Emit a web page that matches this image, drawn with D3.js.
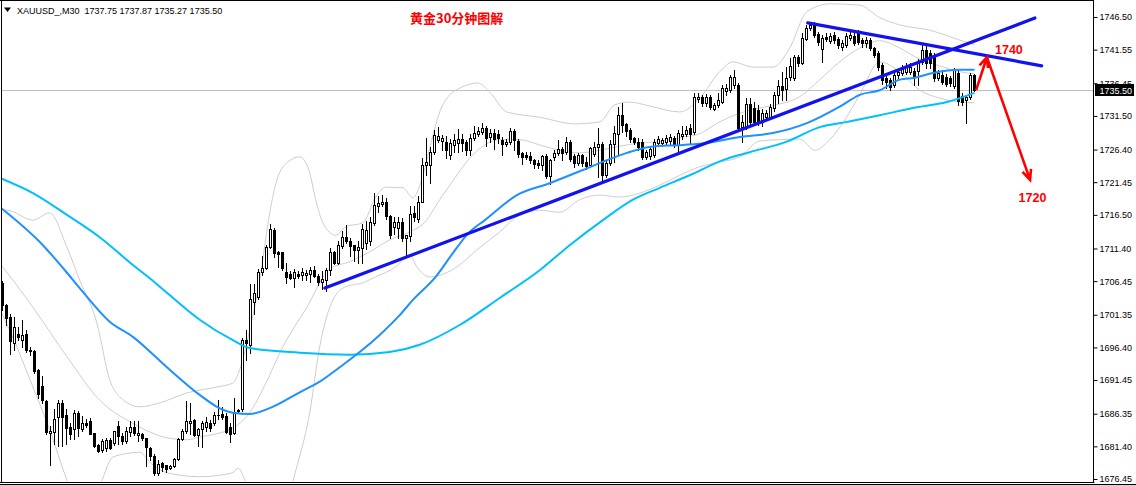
<!DOCTYPE html>
<html><head><meta charset="utf-8">
<script src="https://cdn.jsdelivr.net/npm/d3@7"></script>
<style>
html,body{margin:0;padding:0;background:#fff;}
svg{display:block;}
</style>
</head><body>
<svg id="chart" width="1136" height="485"></svg>
<script>
// ---------------- DATA ----------------
const symbolHeader = "XAUUSD_,M30  1737.75 1737.87 1735.27 1735.50";
const chartTitle = "黄金30分钟图解";
const lastPrice = 1735.50;
const tickLabels = ["1746.50","1741.55","1736.45","1731.50","1726.40","1721.45","1716.50","1711.40","1706.45","1701.35","1696.40","1691.45","1686.35","1681.40","1676.45"];

const opens = [
1706.2,1702.8,1701.0,1697.0,1698.5,1697.5,1698.5,1696.0,1695.8,1693.0,
1690.5,1688.3,1683.5,1683.6,1685.8,1688.0,1686.2,1684.3,1684.0,1686.5,
1684.0,1685.0,1685.2,1683.4,1681.6,1680.8,1681.2,1682.4,1681.9,1684.5,
1682.9,1682.2,1683.6,1684.4,1683.1,1683.2,1682.6,1681.2,1680.0,1677.4,
1678.9,1678.5,1678.1,1678.4,1679.5,1682.5,1683.7,1685.0,1685.4,1683.1,
1684.0,1684.3,1685.0,1684.9,1686.2,1686.3,1686.0,1684.3,1683.4,1686.7,
1687.0,1697.6,1696.8,1703.3,1704.0,1707.8,1708.4,1711.6,1714.2,1710.9,
1710.8,1707.8,1707.6,1707.0,1707.5,1707.4,1707.4,1707.5,1708.2,1707.3,
1706.3,1706.6,1708.1,1710.8,1709.2,1711.8,1713.2,1712.5,1711.9,1711.2,
1711.4,1712.2,1712.5,1715.3,1717.9,1718.2,1718.5,1716.3,1714.6,1714.5,
1715.4,1713.0,1713.3,1716.8,1715.9,1718.5,1724.0,1724.1,1726.1,1727.8,
1727.7,1727.6,1725.6,1727.1,1727.4,1728.0,1727.5,1726.4,1728.1,1728.8,
1729.0,1729.7,1728.3,1728.9,1728.8,1727.9,1727.3,1727.6,1729.2,1727.7,
1725.9,1725.6,1725.4,1724.8,1724.4,1724.1,1725.4,1722.4,1725.3,1725.9,
1726.5,1726.1,1727.5,1725.5,1724.4,1725.6,1724.5,1724.1,1725.8,1726.8,
1727.3,1722.6,1724.4,1727.3,1728.8,1731.6,1730.3,1729.4,1728.2,1727.6,
1727.6,1725.3,1725.4,1725.6,1727.4,1727.4,1727.6,1727.7,1728.2,1727.1,
1728.5,1728.8,1729.6,1729.0,1734.0,1734.3,1733.5,1734.3,1732.6,1733.2,
1733.6,1735.3,1735.4,1736.2,1736.2,1729.8,1729.8,1733.3,1732.7,1732.4,
1730.6,1731.3,1731.4,1732.7,1734.6,1736.0,1735.6,1737.4,1737.3,1740.4,
1739.5,1743.2,1744.8,1745.3,1743.9,1741.6,1743.5,1742.9,1743.7,1743.2,
1742.0,1742.2,1743.3,1743.6,1744.0,1743.0,1742.5,1743.0,1741.8,1741.0,
1739.2,1737.3,1737.0,1736.2,1737.7,1738.0,1738.2,1738.2,1738.3,1738.3,
1739.7,1741.5,1741.0,1740.7,1737.3,1737.7,1737.4,1737.2,1736.0,1738.0,
1734.5,1733.9,1734.3,1737.75];

const highs = [
1706.5,1703.0,1701.5,1701.0,1699.5,1700.5,1699.0,1696.5,1696.0,1693.2,
1692.0,1688.5,1684.5,1687.0,1688.5,1688.5,1687.0,1685.0,1686.9,1686.8,
1686.0,1685.6,1685.7,1683.5,1681.8,1682.5,1682.6,1682.6,1683.8,1685.3,
1683.4,1684.3,1685.3,1685.3,1685.2,1683.5,1682.7,1681.3,1680.2,1679.4,
1679.0,1678.6,1678.6,1679.6,1682.6,1684.0,1688.3,1688.0,1685.6,1684.2,
1685.3,1685.8,1685.4,1686.6,1688.5,1687.3,1686.4,1684.9,1688.7,1687.1,
1697.8,1699.0,1706.0,1706.0,1708.3,1710.3,1711.9,1715.1,1714.5,1711.0,
1710.9,1709.2,1708.0,1708.3,1708.0,1708.5,1708.2,1708.6,1708.8,1707.5,
1708.0,1708.4,1711.4,1711.0,1712.5,1714.0,1715.0,1713.0,1711.9,1712.5,
1715.1,1715.5,1716.2,1719.8,1719.3,1719.5,1719.0,1716.5,1716.2,1716.1,
1716.0,1713.5,1717.9,1717.9,1719.4,1725.1,1728.2,1726.8,1729.4,1729.8,
1728.6,1728.5,1728.0,1728.7,1729.5,1728.8,1727.8,1728.8,1730.0,1729.8,
1730.4,1730.0,1729.5,1729.5,1729.3,1728.3,1728.0,1729.7,1729.5,1728.0,
1726.0,1726.0,1726.0,1725.0,1724.8,1725.6,1725.7,1725.0,1726.3,1727.9,
1726.8,1728.3,1727.8,1725.7,1725.9,1725.8,1725.3,1726.8,1727.6,1729.6,
1727.6,1724.8,1727.8,1729.9,1732.9,1733.5,1730.5,1729.6,1728.3,1728.2,
1728.0,1726.4,1727.0,1728.0,1728.5,1728.2,1728.6,1728.8,1728.5,1729.3,
1730.0,1730.0,1730.3,1735.0,1735.0,1734.7,1734.9,1734.6,1733.5,1735.0,
1736.2,1736.3,1737.7,1738.5,1736.5,1731.6,1734.2,1734.2,1733.6,1733.1,
1732.5,1732.4,1733.3,1735.2,1737.0,1738.2,1738.9,1740.3,1740.7,1740.7,
1744.1,1745.3,1745.7,1745.7,1744.2,1743.8,1744.0,1744.1,1744.2,1743.5,
1743.0,1744.0,1744.2,1744.3,1744.5,1743.3,1743.4,1743.3,1742.0,1741.3,
1739.5,1737.6,1737.3,1738.2,1738.6,1739.2,1739.5,1739.6,1738.8,1740.1,
1742.3,1742.2,1741.5,1741.0,1738.4,1738.5,1737.8,1737.6,1738.8,1738.5,
1735.0,1734.6,1738.0,1737.87];

const lows = [
1702.0,1699.8,1695.4,1696.0,1697.5,1696.5,1695.7,1695.3,1692.5,1688.7,
1688.0,1683.3,1678.6,1681.8,1681.5,1681.5,1681.8,1682.5,1682.5,1683.0,
1683.8,1684.3,1683.2,1681.3,1680.5,1680.6,1680.7,1681.0,1681.6,1681.8,
1681.8,1681.9,1683.0,1683.1,1682.2,1682.3,1678.4,1679.3,1677.1,1677.0,
1677.6,1677.5,1677.9,1678.2,1679.4,1682.3,1683.5,1683.3,1682.9,1681.4,
1681.3,1683.8,1683.8,1684.6,1685.6,1685.5,1683.4,1682.1,1683.3,1686.4,
1686.8,1694.5,1695.5,1701.5,1703.8,1707.4,1708.3,1711.5,1710.1,1708.6,
1708.2,1706.2,1706.8,1705.6,1707.0,1706.6,1706.6,1706.3,1707.1,1705.9,
1705.3,1705.0,1707.4,1709.0,1709.0,1711.5,1712.3,1710.2,1709.5,1709.2,
1709.2,1711.3,1712.0,1715.0,1716.9,1717.8,1715.9,1713.0,1713.6,1713.0,
1712.5,1710.1,1712.6,1715.5,1715.4,1718.4,1722.5,1721.3,1725.8,1727.5,
1726.3,1725.1,1724.9,1726.1,1726.0,1726.2,1725.6,1725.6,1727.8,1728.5,
1728.7,1727.0,1727.5,1726.5,1727.4,1725.6,1727.0,1727.3,1726.3,1725.3,
1724.2,1724.9,1724.3,1723.6,1723.6,1723.3,1722.1,1721.2,1724.8,1725.6,
1724.8,1725.8,1724.7,1723.8,1724.0,1723.9,1723.5,1723.8,1725.5,1722.2,
1721.6,1722.2,1724.0,1724.5,1725.6,1729.0,1728.5,1727.5,1727.2,1726.4,
1725.0,1724.9,1725.0,1725.3,1727.0,1727.0,1727.2,1727.3,1726.8,1726.0,
1728.0,1728.5,1727.4,1728.7,1733.6,1733.0,1733.0,1732.6,1732.4,1732.9,
1733.4,1734.7,1735.1,1735.8,1729.2,1727.6,1729.5,1730.0,1730.2,1730.1,
1730.0,1731.0,1731.0,1732.3,1733.4,1733.9,1733.9,1737.0,1737.0,1739.0,
1739.3,1743.0,1744.5,1743.4,1742.3,1739.7,1742.8,1742.6,1742.5,1741.8,
1741.5,1741.9,1743.0,1742.3,1742.4,1742.0,1742.0,1741.5,1740.4,1738.5,
1736.4,1735.7,1735.4,1735.9,1737.2,1737.7,1737.9,1737.8,1736.2,1736.2,
1739.4,1738.8,1738.8,1736.8,1736.9,1736.3,1736.0,1736.0,1735.8,1733.2,
1733.2,1730.4,1734.0,1735.27];

const closes = [
1702.8,1700.8,1697.3,1699.5,1698.0,1698.3,1696.0,1695.8,1692.9,1689.3,
1688.5,1683.6,1683.7,1685.6,1688.0,1685.9,1684.2,1683.3,1686.5,1684.2,
1685.0,1684.7,1683.3,1681.5,1680.7,1682.2,1682.3,1681.2,1683.7,1683.0,
1682.2,1683.7,1684.3,1683.4,1683.5,1682.6,1681.3,1679.9,1677.4,1678.7,
1678.3,1678.0,1678.4,1679.5,1682.5,1683.7,1685.2,1685.3,1683.1,1684.0,
1685.0,1685.1,1684.2,1686.2,1686.1,1685.8,1683.6,1683.3,1686.6,1686.9,
1697.6,1697.0,1703.7,1704.6,1707.8,1708.4,1711.6,1714.3,1710.7,1710.6,
1708.4,1707.1,1707.0,1707.8,1707.3,1707.8,1707.7,1708.1,1707.3,1706.3,
1706.8,1708.1,1710.8,1709.2,1711.9,1713.2,1712.5,1711.8,1711.1,1711.6,
1714.4,1714.2,1715.4,1718.0,1718.3,1718.5,1716.3,1713.5,1715.4,1715.4,
1713.0,1713.4,1716.7,1716.1,1718.5,1724.1,1724.5,1726.1,1728.6,1728.4,
1728.2,1726.3,1727.4,1727.9,1728.0,1727.4,1726.3,1728.1,1728.9,1729.2,
1729.6,1728.2,1728.9,1728.0,1728.1,1727.2,1727.6,1729.2,1727.8,1725.7,
1725.3,1725.3,1724.8,1724.2,1724.1,1725.4,1722.4,1724.8,1725.9,1726.5,
1725.9,1727.5,1725.0,1724.4,1725.6,1724.3,1723.9,1726.6,1726.8,1727.3,
1722.6,1724.4,1727.3,1728.9,1731.6,1730.1,1729.2,1728.0,1727.6,1726.8,
1725.3,1726.0,1726.5,1727.5,1728.0,1727.9,1728.2,1728.3,1727.1,1728.9,
1728.8,1729.3,1728.8,1734.4,1734.4,1733.5,1734.4,1732.9,1733.2,1733.9,
1735.7,1735.7,1737.4,1737.4,1729.7,1730.6,1733.3,1730.6,1730.6,1730.5,
1731.9,1731.9,1732.9,1734.7,1736.0,1735.5,1737.3,1739.0,1740.4,1739.5,
1743.3,1744.8,1745.3,1743.8,1742.7,1743.3,1743.1,1743.6,1743.0,1742.3,
1742.6,1743.6,1743.8,1742.6,1742.7,1742.5,1743.0,1741.8,1740.7,1738.9,
1736.9,1736.7,1735.9,1737.7,1738.1,1738.8,1738.9,1738.9,1737.5,1739.7,
1741.5,1739.5,1739.5,1737.3,1738.0,1736.6,1736.4,1736.5,1738.5,1733.7,
1733.6,1734.3,1737.7,1735.50];

// indicator lines: [bar index, price]
const maSlow = [[-0.7,1722.1],[7.6,1719.8],[16.1,1716.5],[24.3,1713.1],[32.6,1708.9],[36.8,1706.9],[41.1,1704.7],[49.3,1700.6],[57.6,1697.5],[61.8,1696.3],[74.3,1695.6],[86.8,1695.3],[96.8,1695.7],[104.3,1696.8],[114.3,1699.8],[124.3,1703.9],[134.3,1708.1],[141.8,1711.9],[150.1,1715.7],[157.6,1718.8],[164.3,1720.6],[171.8,1722.5],[180.1,1724.8],[186.8,1726.0],[196.1,1727.6],[204.3,1729.8],[211.1,1730.6],[219.3,1731.6],[227.6,1732.7],[236.1,1733.6],[243,1735.0]];
const maFast = [[-0.7,1717.7],[10.1,1711.9],[15.6,1708.1],[19.3,1705.4],[26.8,1700.3],[32.6,1698.0],[41.1,1693.4],[49.3,1689.2],[53.6,1687.4],[57.6,1686.5],[61.8,1686.3],[66.8,1687.2],[74.3,1689.6],[79.3,1691.2],[84.3,1693.4],[89.3,1695.7],[94.3,1698.3],[99.3,1701.3],[102.6,1703.6],[108.3,1707.1],[112.6,1710.7],[116.6,1713.8],[120.6,1715.7],[128.6,1719.5],[136.8,1721.3],[145.1,1723.3],[151.1,1724.8],[156.1,1725.9],[161.8,1726.8],[170.1,1727.1],[176.1,1727.4],[184.3,1728.3],[192.6,1728.9],[201.1,1730.4],[209.3,1732.9],[214.3,1734.7],[219.3,1735.4],[224.3,1737.0],[228.1,1737.3],[232.6,1738.0],[239.3,1738.5],[243,1738.5]];
const bandUpper = [[-0.7,1716.2],[1.1,1717.2],[7.6,1715.7],[11.8,1716.8],[16.1,1711.6],[19.3,1706.6],[23.6,1700.1],[26.8,1691.5],[29.3,1688.9],[34.3,1687.4],[39.3,1688.0],[46.1,1689.5],[53.6,1690.4],[57.6,1691.0],[59.3,1693.0],[61.8,1699.0],[64.3,1706.6],[66.8,1716.8],[68.6,1721.8],[71.3,1724.5],[74.3,1725.3],[76.6,1723.3],[78.3,1718.8],[80.1,1715.3],[83.3,1713.4],[85.8,1714.7],[90.1,1715.3],[93.3,1719.2],[95.8,1720.7],[100.1,1720.6],[102.6,1719.1],[104.8,1721.8],[106.8,1726.6],[109.3,1732.1],[111.8,1734.7],[114.3,1735.7],[118.8,1736.5],[121.8,1735.1],[126.1,1732.1],[134.3,1731.3],[143.1,1730.3],[149.3,1730.6],[153.1,1733.2],[156.8,1733.6],[161.8,1733.0],[169.3,1732.1],[174.3,1734.2],[179.3,1738.2],[182.6,1739.7],[187.6,1738.9],[192.6,1738.9],[196.8,1741.8],[201.1,1747.3],[206.8,1748.5],[214.3,1748.3],[219.3,1746.4],[224.3,1745.3],[231.8,1744.5],[239.3,1743.0],[243,1742.3]];
const bandMiddle = [[-0.7,1709.2],[7.6,1702.5],[16.1,1695.0],[24.3,1688.4],[32.6,1684.9],[41.1,1682.7],[46.1,1682.4],[49.3,1682.8],[57.6,1684.2],[61.8,1686.5],[65.6,1690.7],[70.1,1696.5],[76.1,1702.5],[81.8,1708.3],[86.8,1709.4],[91.8,1710.9],[96.8,1712.7],[101.8,1713.9],[105.6,1715.4],[109.3,1718.8],[113.1,1722.1],[116.8,1725.1],[120.6,1727.1],[124.3,1727.9],[129.3,1727.9],[134.3,1727.1],[139.3,1726.3],[144.3,1725.9],[149.3,1726.3],[154.3,1726.9],[159.3,1727.4],[164.3,1727.6],[169.3,1728.2],[174.3,1728.8],[179.3,1730.6],[184.3,1731.9],[189.3,1732.7],[194.3,1733.3],[199.3,1734.4],[204.3,1737.0],[209.3,1739.7],[214.3,1741.8],[219.3,1742.9],[224.3,1741.8],[229.3,1740.1],[234.3,1739.1],[239.3,1738.2],[243,1737.9]];
const bandLower = [[-0.7,1702.2],[1.8,1699.0],[7.6,1690.4],[11.8,1683.9],[16.1,1676.3],[19.3,1671.8],[23.1,1673.3],[25.1,1676.6],[27.6,1679.8],[34.3,1680.5],[36.8,1679.0],[41.1,1677.4],[49.3,1676.8],[57.6,1677.4],[58.8,1678.1],[61.1,1675.5],[64.3,1668.7],[69.3,1667.2],[72.6,1676.0],[76.8,1686.5],[79.3,1696.5],[82.6,1703.6],[85.8,1705.6],[90.1,1706.2],[93.3,1707.1],[98.3,1708.6],[101.8,1710.4],[103.6,1708.6],[106.8,1707.1],[113.6,1708.6],[118.6,1711.2],[124.3,1713.9],[129.3,1716.5],[134.3,1717.2],[139.3,1716.9],[144.3,1718.8],[149.3,1719.5],[154.3,1719.2],[159.3,1719.8],[164.3,1721.0],[169.3,1722.5],[174.3,1723.8],[179.3,1724.5],[184.3,1725.3],[189.3,1727.7],[194.3,1727.9],[199.3,1728.0],[203.1,1726.3],[206.8,1727.9],[210.6,1730.9],[214.3,1734.7],[219.3,1739.7],[224.3,1738.2],[229.3,1735.4],[234.3,1734.2],[239.3,1733.6],[243,1733.5]];

// drawn objects: [bar index, price]
const trendRising = [[80.6,1705.4],[258.1,1746.35]];
const trendFalling = [[201.3,1745.6],[259.8,1739.1]];
const arrowUpLeg = [[243.4,1735.4],[246.1,1740.4]];
const arrowDownLeg = [[246.1,1740.4],[256.9,1721.8]];
const targetLabels = ["1740","1720"];
const targetPos = [[251.6,1741.6],[257.5,1719.2]];

// ---------------- DRAW ----------------
const svg = d3.select("#chart");
const W = 1136, H = 485;
const axisX = 1093.5, plotBottom = 482;

const x = d3.scaleLinear().domain([0, 243]).range([2.5, 974.5]);
const y = d3.scaleLinear().domain([1676.45, 1746.50]).range([479, 17]);

svg.append("rect").attr("width", W).attr("height", H).attr("fill", "#fff");

const defs = svg.append("defs");
defs.append("clipPath").attr("id", "plot")
  .append("rect").attr("x", 2).attr("y", 1).attr("width", axisX - 2.5).attr("height", plotBottom - 1.5);

const plot = svg.append("g").attr("clip-path", "url(#plot)");

const line = d3.line().x(d => x(d[0])).y(d => y(d[1])).curve(d3.curveMonotoneX);

// Bollinger bands
[bandUpper, bandMiddle, bandLower].forEach(b => {
  plot.append("path").attr("d", line(b)).attr("fill", "none")
    .attr("stroke", "#cdcdcd").attr("stroke-width", 1);
});

// last price line
const yLast = Math.round(y(lastPrice)) + 0.5;
plot.append("line").attr("x1", 0).attr("x2", axisX).attr("y1", yLast).attr("y2", yLast)
  .attr("stroke", "#c0c0c0").attr("stroke-width", 1);

// candles
const bars = d3.range(opens.length).map(i => ({i, o: opens[i], h: highs[i], l: lows[i], c: closes[i]}));
const cg = plot.append("g");
bars.forEach(d => {
  const cx = x(d.i);
  const yh = Math.round(y(d.h)), yl = Math.round(y(d.l));
  const yt = Math.round(y(Math.max(d.o, d.c))), yb = Math.round(y(Math.min(d.o, d.c)));
  cg.append("line").attr("x1", cx).attr("x2", cx).attr("y1", yh).attr("y2", yl + 1)
    .attr("stroke", "#000").attr("stroke-width", 1);
  if (d.c >= d.o) {
    cg.append("rect").attr("x", cx - 1).attr("y", yt + 0.5).attr("width", 2)
      .attr("height", Math.max(0, yb - yt)).attr("fill", "#fff").attr("stroke", "#000").attr("stroke-width", 1);
  } else {
    cg.append("rect").attr("x", cx - 1.5).attr("y", yt).attr("width", 3)
      .attr("height", Math.max(1, yb - yt + 1)).attr("fill", "#000");
  }
});

// moving averages
plot.append("path").attr("d", line(maSlow)).attr("fill", "none")
  .attr("stroke", "#00BFFF").attr("stroke-width", 2);
plot.append("path").attr("d", line(maFast)).attr("fill", "none")
  .attr("stroke", "#1E90FF").attr("stroke-width", 2);

// trend lines
const straight = d3.line().x(d => x(d[0])).y(d => y(d[1]));
[trendRising, trendFalling].forEach(t => {
  plot.append("path").attr("d", straight(t)).attr("fill", "none")
    .attr("stroke", "#1212EE").attr("stroke-width", 3.2).attr("stroke-linecap", "round");
});

// red arrows
function arrow(seg) {
  const x1 = x(seg[0][0]), y1 = y(seg[0][1]), x2 = x(seg[1][0]), y2 = y(seg[1][1]);
  const a = Math.atan2(y2 - y1, x2 - x1), L = 11, s = 0.42;
  const p = `M${x1},${y1}L${x2},${y2}` +
    `M${x2 - L*Math.cos(a - s)},${y2 - L*Math.sin(a - s)}L${x2},${y2}L${x2 - L*Math.cos(a + s)},${y2 - L*Math.sin(a + s)}`;
  plot.append("path").attr("d", p).attr("fill", "none").attr("stroke", "#FF0000")
    .attr("stroke-width", 2.6).attr("stroke-linejoin", "miter");
}
arrow(arrowUpLeg);
arrow(arrowDownLeg);

targetLabels.forEach((t, k) => {
  plot.append("text").attr("x", x(targetPos[k][0])).attr("y", y(targetPos[k][1]) + 4.5)
    .attr("text-anchor", "middle").attr("fill", "#FF0000")
    .attr("font-family", "'Liberation Sans', Arial, sans-serif").attr("font-weight", "bold")
    .attr("font-size", "12.5px").text(t);
});

// title
svg.append("text").attr("x", 410).attr("y", 23).attr("fill", "#FF0000")
  .attr("font-family", "'Noto Sans CJK SC', sans-serif").attr("font-weight", "bold")
  .attr("font-size", "13px").text(chartTitle);

// header
svg.append("path").attr("d", "M4,7.5L11,7.5L7.5,12Z").attr("fill", "#000");
svg.append("text").attr("x", 17).attr("y", 13.5).attr("fill", "#000")
  .attr("font-family", "'Liberation Sans', Arial, sans-serif").attr("font-size", "9px")
  .style("white-space", "pre").text(symbolHeader);

// frame
svg.append("line").attr("x1", 0).attr("x2", axisX).attr("y1", 0.5).attr("y2", 0.5).attr("stroke", "#000");
svg.append("line").attr("x1", 1.5).attr("x2", 1.5).attr("y1", 0).attr("y2", plotBottom + 1).attr("stroke", "#000");
svg.append("line").attr("x1", 0).attr("x2", axisX + 1).attr("y1", plotBottom + 0.5).attr("y2", plotBottom + 0.5).attr("stroke", "#000");
svg.append("line").attr("x1", 0).attr("x2", W).attr("y1", 484.5).attr("y2", 484.5).attr("stroke", "#000");
svg.append("line").attr("x1", axisX).attr("x2", axisX).attr("y1", 0).attr("y2", plotBottom + 1).attr("stroke", "#000");

// price axis
const axis = d3.axisRight(y).tickValues(tickLabels.map(Number)).tickFormat(d => d.toFixed(2))
  .tickSize(4).tickSizeOuter(0).tickPadding(2);
const ag = svg.append("g").attr("transform", `translate(${axisX},0)`).call(axis);
ag.select(".domain").remove();
ag.selectAll(".tick line").attr("stroke", "#000");
ag.selectAll(".tick text").attr("fill", "#000")
  .attr("font-family", "'Liberation Sans', Arial, sans-serif").attr("font-size", "9px");

// last price label
const lg = svg.append("g");
lg.append("rect").attr("x", 1095).attr("y", Math.round(y(lastPrice)) - 6).attr("width", 39).attr("height", 12).attr("fill", "#000");
lg.append("text").attr("x", 1099.5).attr("y", Math.round(y(lastPrice)) + 3.5).attr("fill", "#fff")
  .attr("font-family", "'Liberation Sans', Arial, sans-serif").attr("font-size", "9px")
  .text(lastPrice.toFixed(2));
</script>
</body></html>
